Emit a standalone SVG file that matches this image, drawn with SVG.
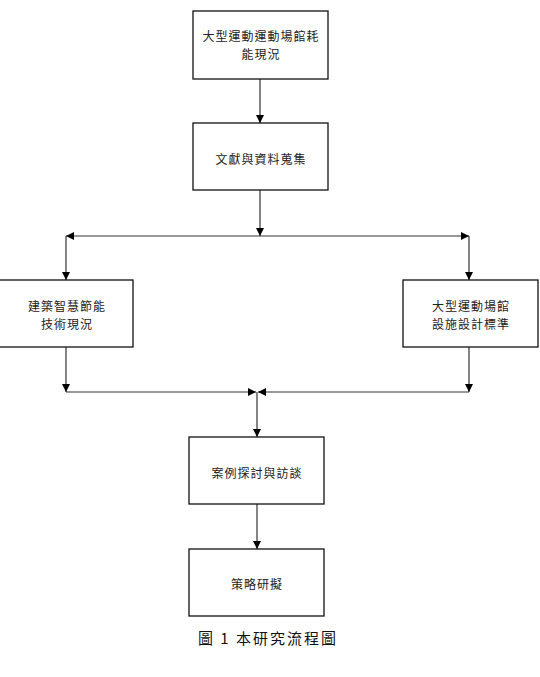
<svg xmlns="http://www.w3.org/2000/svg" width="540" height="677" viewBox="0 0 540 677">
<style>
.box{fill:#fff;stroke:#111;stroke-width:1.3}
.t{font-family:"Noto Sans CJK TC","Noto Sans CJK SC",sans-serif;font-size:12px;letter-spacing:1px;fill:#222;text-anchor:middle;dominant-baseline:central}
.ln{fill:none;stroke:#333;stroke-width:1.2}
.cap{font-family:"Noto Sans CJK TC","Liberation Serif",serif;font-size:15px;fill:#111;text-anchor:middle;dominant-baseline:central;letter-spacing:2px}
</style>
<defs>
<marker id="ah" viewBox="0 0 10 10" refX="10" refY="5" markerWidth="8" markerHeight="8" markerUnits="userSpaceOnUse" orient="auto">
<path d="M0,0 L10,5 L0,10 Z" fill="#000"/>
</marker>
</defs>
<rect width="540" height="677" fill="#fff"/>
<g id="connectors">
<line class="ln" x1="260" y1="79" x2="260" y2="123" marker-end="url(#ah)"/>
<line class="ln" x1="260" y1="190" x2="260" y2="236" marker-end="url(#ah)"/>
<line class="ln" x1="260" y1="236" x2="66" y2="236" marker-end="url(#ah)"/>
<line class="ln" x1="260" y1="236" x2="469" y2="236" marker-end="url(#ah)"/>
<line class="ln" x1="66" y1="236" x2="66" y2="280" marker-end="url(#ah)"/>
<line class="ln" x1="469" y1="236" x2="469" y2="280" marker-end="url(#ah)"/>
<line class="ln" x1="66" y1="347" x2="66" y2="392" marker-end="url(#ah)"/>
<line class="ln" x1="469" y1="347" x2="469" y2="392" marker-end="url(#ah)"/>
<line class="ln" x1="66" y1="392" x2="256" y2="392" marker-end="url(#ah)"/>
<line class="ln" x1="469" y1="392" x2="258" y2="392" marker-end="url(#ah)"/>
<line class="ln" x1="257" y1="392" x2="257" y2="437" marker-end="url(#ah)"/>
<line class="ln" x1="257" y1="504" x2="257" y2="549" marker-end="url(#ah)"/>
</g>
<g id="n1">
<rect class="box" x="193" y="11" width="135" height="68"/>
<text class="t" x="261" y="35">大型運動運動場館耗</text>
<text class="t" x="261" y="53">能現況</text>
</g>
<g id="n2">
<rect class="box" x="193" y="123" width="135" height="67"/>
<text class="t" x="261" y="158">文獻與資料蒐集</text>
</g>
<g id="n3">
<rect class="box" x="-1" y="280" width="134" height="67"/>
<text class="t" x="67" y="305">建築智慧節能</text>
<text class="t" x="67" y="323">技術現況</text>
</g>
<g id="n4">
<rect class="box" x="403" y="280" width="135" height="67"/>
<text class="t" x="471" y="305">大型運動場館</text>
<text class="t" x="471" y="323">設施設計標準</text>
</g>
<g id="n5">
<rect class="box" x="189" y="437" width="135" height="67"/>
<text class="t" x="257" y="472">案例探討與訪談</text>
</g>
<g id="n6">
<rect class="box" x="189" y="549" width="135" height="67"/>
<text class="t" x="257" y="583">策略研擬</text>
</g>
<text class="cap" x="268" y="637">圖 1 本研究流程圖</text>
</svg>
